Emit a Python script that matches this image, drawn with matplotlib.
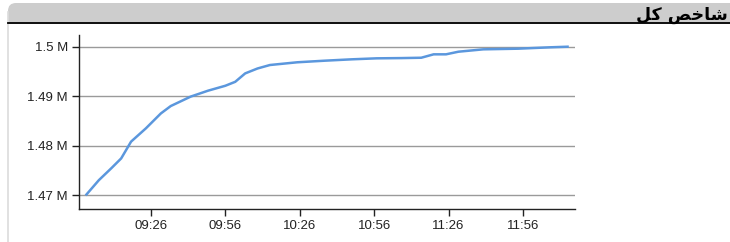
import matplotlib
matplotlib.use("Agg")
import matplotlib.pyplot as plt
import matplotlib.dates as mdates
from matplotlib.patches import FancyBboxPatch, Rectangle
from datetime import datetime

# data (time of day, index value)
times = ["09:00", "09:05", "09:10", "09:14", "09:18", "09:20", "09:24", "09:30",
         "09:34", "09:42", "09:49", "09:56", "10:00", "10:04", "10:09", "10:14",
         "10:25", "10:36", "10:47", "10:57", "11:07", "11:15", "11:20", "11:25",
         "11:30", "11:40", "11:54", "12:07", "12:14"]
values = [1470100, 1473000, 1475400, 1477400, 1480800, 1481700, 1483500, 1486500,
          1488000, 1489900, 1491100, 1492100, 1492900, 1494600, 1495600, 1496300,
          1496850, 1497170, 1497450, 1497650, 1497700, 1497770, 1498460, 1498460,
          1498990, 1499470, 1499600, 1499880, 1500000]
tick_times = ["09:26", "09:56", "10:26", "10:56", "11:26", "11:56"]
y_ticks = [1470000, 1480000, 1490000, 1500000]
y_labels = ["1.47 M", "1.48 M", "1.49 M", "1.5 M"]
title = "\uFEDE\uFB90 \uFEBA\uFEA7\uFE8E\uFEB7"  # شاخص کل in shaped, visual order

day = "2020-01-01 "
def to_dt(s):
    return datetime.strptime(day + s, "%Y-%m-%d %H:%M")

x = [to_dt(t) for t in times]

W, H = 730, 242
fig = plt.figure(figsize=(W / 100, H / 100), dpi=100)
fig.patch.set_facecolor("white")

# background panel in pixel coords
bg = fig.add_axes([0, 0, 1, 1], zorder=0)
bg.set_xlim(0, W)
bg.set_ylim(H, 0)
bg.axis("off")
bg.add_patch(FancyBboxPatch((8, 3), W, 30, boxstyle="round,pad=0,rounding_size=8",
                            facecolor="#cdcdcd", edgecolor="none"))
bg.add_patch(Rectangle((8, 14), W, 9.5, facecolor="#cdcdcd", edgecolor="none"))
bg.add_patch(Rectangle((8, 23.5), W, H, facecolor="white", edgecolor="none"))
bg.plot([7.5, 7.5], [12, H], color="#dcdcdc", lw=1.2)
bg.plot([8, W], [23.3, 23.3], color="black", lw=1.3)
bg.text(728, 20, title, fontsize=12.5, fontweight="bold", family=["DejaVu Sans"],
        ha="right", va="baseline", color="black")

ax = fig.add_axes([79 / W, 1 - 209 / H, 496 / W, 174 / H], zorder=1)
ax.patch.set_alpha(0)
ax.plot(x, values, color="#5b97dd", lw=1.8, solid_joinstyle="round")

ax.set_xlim(to_dt("08:57"), to_dt("12:17"))
ax.set_ylim(1467170, 1502370)
ax.set_xticks([to_dt(t) for t in tick_times])
ax.xaxis.set_major_formatter(mdates.DateFormatter("%H:%M"))
ax.set_yticks(y_ticks)
ax.set_yticklabels(y_labels)
ax.yaxis.grid(True, color="#9a9a9a", lw=1.0)
ax.set_axisbelow(True)
for s in ("top", "right"):
    ax.spines[s].set_visible(False)
for s in ("left", "bottom"):
    ax.spines[s].set_color("#222222")
    ax.spines[s].set_linewidth(1.0)
ax.tick_params(axis="both", direction="out", length=5, width=1, color="#222222",
               labelsize=9.5, labelcolor="#222222", pad=3)
for lab in ax.get_xticklabels() + ax.get_yticklabels():
    lab.set_family("Liberation Sans")

fig.savefig("out.png", dpi=100)
